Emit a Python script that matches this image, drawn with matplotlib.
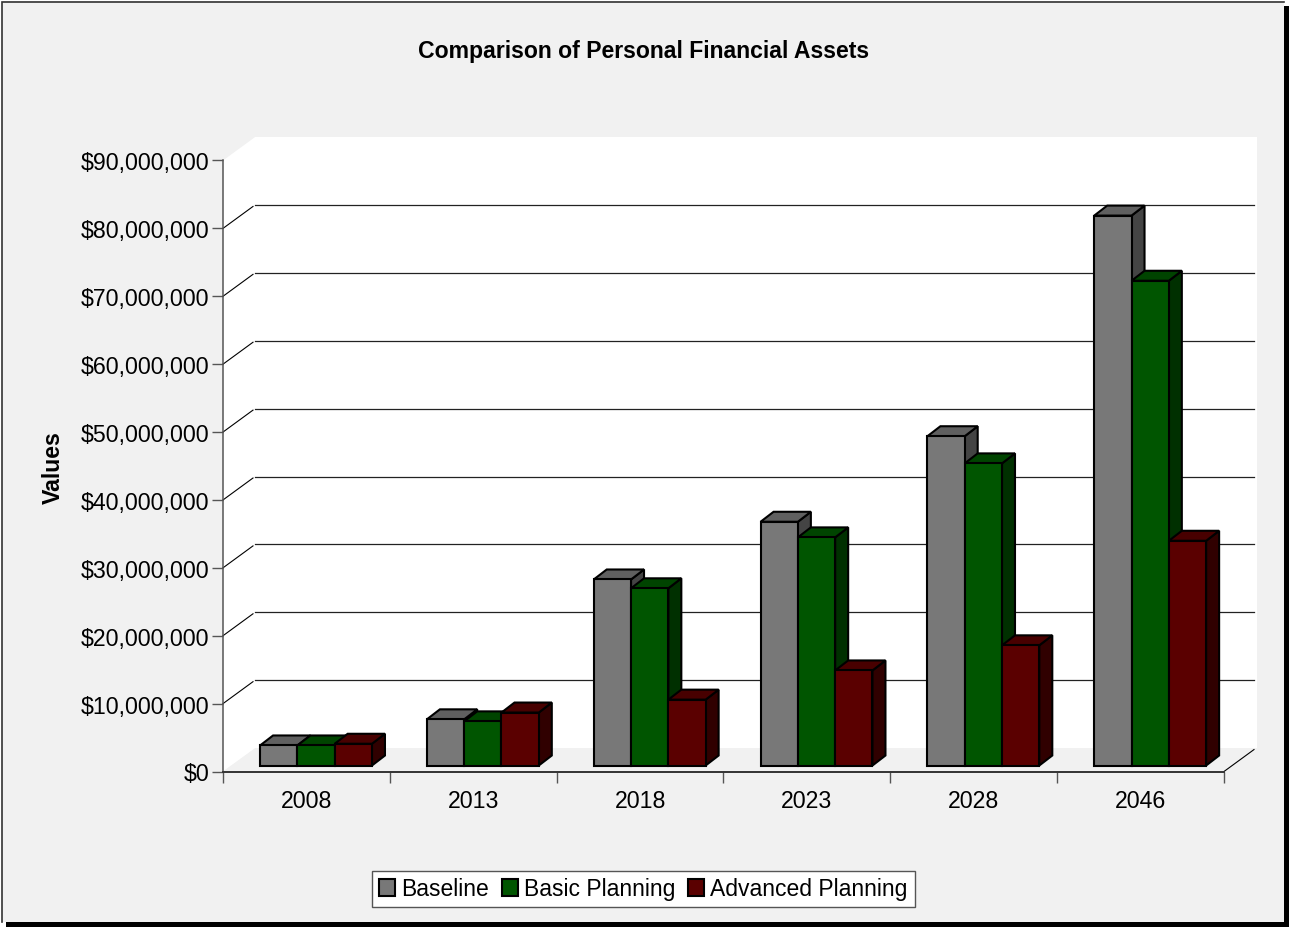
import matplotlib
matplotlib.use("Agg")
import matplotlib.pyplot as plt
from matplotlib.patches import Patch, Polygon, Rectangle
from matplotlib.ticker import FuncFormatter

plt.rcParams['font.family'] = ['Liberation Sans', 'DejaVu Sans']

years = ['2008', '2013', '2018', '2023', '2028', '2046']
baseline = [2.95e6, 6.8e6, 27.4e6, 35.9e6, 48.5e6, 81.0e6]
basic_planning = [2.95e6, 6.5e6, 26.1e6, 33.6e6, 44.5e6, 71.4e6]
advanced_planning = [3.2e6, 7.8e6, 9.7e6, 14.0e6, 17.7e6, 33.1e6]
series_names = ['Baseline', 'Basic Planning', 'Advanced Planning']
y_ticks = [0, 10e6, 20e6, 30e6, 40e6, 50e6, 60e6, 70e6, 80e6, 90e6]

FRONT = ['#787878', '#005500', '#5a0000']
TOP = ['#606060', '#004400', '#480000']
SIDE = ['#444444', '#003000', '#300000']
PANEL = '#f1f1f1'

W, H = 1289, 928
fig = plt.figure(figsize=(W / 100, H / 100), dpi=100, facecolor='white')

# Full-figure pixel layer for the framed panel and its drop shadow
bg = fig.add_axes([0, 0, 1, 1], zorder=0)
bg.set_xlim(0, W)
bg.set_ylim(H, 0)
bg.axis('off')
bg.add_patch(Rectangle((6, 7), W - 6, H - 7, fc='black', ec='none'))
bg.add_patch(Rectangle((1.5, 2), 1282.5, 921, fc=PANEL, ec='none'))
bg.plot([1.5, 1.5, 1284], [923, 2.5, 2.5], color='#333333', lw=1.2, solid_joinstyle='miter')

# Front plane of the 3D plot box
L, R, T, B = 223, 1224, 161.5, 772.5
ax = fig.add_axes([L / W, 1 - B / H, (R - L) / W, (B - T) / H], zorder=1)
ax.set_xlim(0, len(years))
ax.set_ylim(0, 90e6)
ax.patch.set_visible(False)

px_x = len(years) / (R - L)
px_y = 90e6 / (B - T)

# Depth vector of the box and of a single bar, in data units
BOX_DX, BOX_DY = 32 * px_x, 23.4 * px_y
BAR_DX, BAR_DY = 13 * px_x, 10 * px_y
BASE_DX, BASE_DY = 9.6 * px_x, 6 * px_y
BAR_W = 37.3 * px_x
GROUP_W = 3 * BAR_W
n = len(years)
ymax = 90e6

# Walls and floor
ax.add_patch(Polygon([(0, 0), (0, ymax), (BOX_DX, ymax + BOX_DY), (BOX_DX, BOX_DY)],
                     fc='white', ec='none', zorder=1, clip_on=False))
ax.add_patch(Rectangle((BOX_DX, BOX_DY), n + px_x, ymax, fc='white', ec='none', zorder=1, clip_on=False))
ax.add_patch(Polygon([(0, 0), (BOX_DX, BOX_DY - px_y), (n + BOX_DX + px_x, BOX_DY - px_y), (n, 0)],
                     fc=PANEL, ec='none', zorder=1.5, clip_on=False))

# Gridlines run up the side wall and along the back wall
GAP = 2 * px_x
for v in y_ticks[1:-1]:
    ax.plot([0, BOX_DX - GAP], [v, v + BOX_DY * (BOX_DX - GAP) / BOX_DX],
            color='black', lw=0.8, zorder=2, clip_on=False)
    ax.plot([BOX_DX, n + BOX_DX - 2 * px_x], [v + BOX_DY, v + BOX_DY],
            color='#222222', lw=0.9, zorder=2, clip_on=False)
ax.plot([n, n + BOX_DX - GAP], [0, BOX_DY * (BOX_DX - GAP) / BOX_DX],
        color='black', lw=0.8, zorder=2, clip_on=False)

# Bars: each gets a front face, a top face and a side face
series = [baseline, basic_planning, advanced_planning]
z = 3
for c in range(n):
    left = c + (1 - GROUP_W) / 2 + BASE_DX
    for s, values in enumerate(series):
        v = values[c]
        x0 = left + s * BAR_W
        x1 = x0 + BAR_W
        y0 = BASE_DY
        y1 = BASE_DY + v
        edge = dict(ec='black', lw=1.5, joinstyle='miter', clip_on=False, zorder=z)
        ax.add_patch(Polygon([(x1, y0), (x1 + BAR_DX, y0 + BAR_DY), (x1 + BAR_DX, y1 + BAR_DY), (x1, y1)],
                             fc=SIDE[s], **edge))
        ax.add_patch(Polygon([(x0, y1), (x0 + BAR_DX, y1 + BAR_DY), (x1 + BAR_DX, y1 + BAR_DY), (x1, y1)],
                             fc=TOP[s], **edge))
        ax.bar(x0, v, BAR_W, bottom=y0, align='edge', color=FRONT[s], edgecolor='black',
               linewidth=1.5, clip_on=False, zorder=z)
        z += 0.01

# Axes, ticks and labels
for side in ('top', 'right'):
    ax.spines[side].set_visible(False)
ax.spines['left'].set_color('#555555')
ax.spines['bottom'].set_color('#333333')
ax.spines['left'].set_linewidth(1.1)
ax.spines['bottom'].set_linewidth(1.4)
ax.spines['left'].set_zorder(2.5)
ax.spines['bottom'].set_zorder(2.5)

ax.set_yticks(y_ticks)
ax.yaxis.set_major_formatter(FuncFormatter(lambda v, _: f'${v:,.0f}'))
ax.set_xticks(range(n + 1))
ax.set_xticklabels([''] * (n + 1))
ax.tick_params(axis='both', length=8, width=1.0, color='#555555', labelsize=16.7, pad=2)
for c, label in enumerate(years):
    ax.text(c + 0.5, -29.5 * px_y, label, ha='center', va='center', fontsize=16.7, color='black', clip_on=False)

fig.text(643.5 / W, 1 - 51.5 / H, 'Comparison of Personal Financial Assets', ha='center', va='center',
         fontsize=16.55, fontweight='bold')
fig.text(53 / W, 1 - 468 / H, 'Values', ha='center', va='center', rotation=90,
         fontsize=16.7, fontweight='bold')

handles = [Patch(fc=FRONT[i], ec='black', lw=1.5, label=series_names[i]) for i in range(3)]
leg = fig.legend(handles=handles, ncol=3, loc='center', bbox_to_anchor=(643.5 / W, 1 - 890 / H),
                 fontsize=16.5, frameon=True, fancybox=False, framealpha=1, edgecolor='#555555',
                 handlelength=0.7, handleheight=0.7, handletextpad=0.27, columnspacing=0.55,
                 borderpad=0.3, borderaxespad=0)
leg.get_frame().set_linewidth(1.0)

fig.savefig('out.png', dpi=100)
